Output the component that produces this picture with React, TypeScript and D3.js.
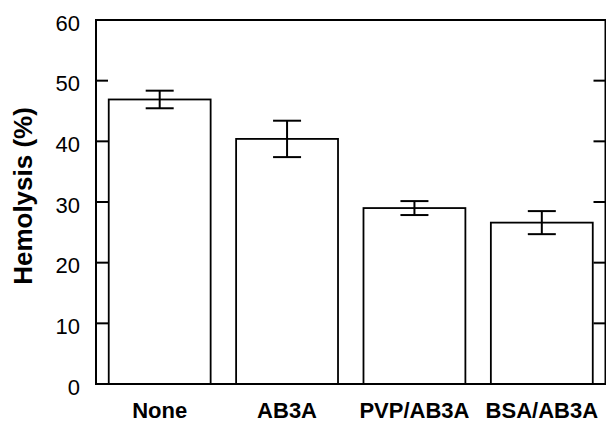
import React, { useRef, useEffect } from 'react';
import * as d3 from 'd3';

const categories = ['None', 'AB3A', 'PVP/AB3A', 'BSA/AB3A'];
const hemolysis = [46.9, 40.4, 29.0, 26.6];
const errors = [1.45, 3.0, 1.15, 1.9];
const yTicks = [0, 10, 20, 30, 40, 50, 60];

const W = 606;
const H = 423;
const margin = { top: 20, right: 0.5, bottom: 39, left: 96 };

const App = () => {
  const ref = useRef<SVGSVGElement>(null);

  useEffect(() => {
    const svg = d3.select(ref.current);
    svg.selectAll('*').remove();

    const x0 = margin.left;
    const x1 = W - margin.right;
    const y0 = H - margin.bottom;
    const y1 = margin.top;

    const x = d3.scaleBand<string>().domain(categories).range([x0, x1]).paddingInner(0.2).paddingOuter(0.1);
    const y = d3.scaleLinear().domain([0, 60]).range([y0, y1]);

    const font = 'Liberation Sans, Arial, Helvetica, sans-serif';

    // bars
    svg
      .append('g')
      .selectAll('rect')
      .data(categories)
      .join('rect')
      .attr('x', (d) => x(d)!)
      .attr('y', (d, i) => y(hemolysis[i]))
      .attr('width', x.bandwidth())
      .attr('height', (d, i) => y(0) - y(hemolysis[i]))
      .attr('fill', '#fff')
      .attr('stroke', '#000')
      .attr('stroke-width', 1.8);

    // error bars
    const cap = 14;
    const eb = svg.append('g').attr('stroke', '#000').attr('stroke-width', 2);
    categories.forEach((c, i) => {
      const cx = x(c)! + x.bandwidth() / 2;
      const hi = y(hemolysis[i] + errors[i]);
      const lo = y(hemolysis[i] - errors[i]);
      eb.append('line').attr('x1', cx).attr('x2', cx).attr('y1', hi).attr('y2', lo);
      eb.append('line').attr('x1', cx - cap).attr('x2', cx + cap).attr('y1', hi).attr('y2', hi);
      eb.append('line').attr('x1', cx - cap).attr('x2', cx + cap).attr('y1', lo).attr('y2', lo);
    });

    // frame
    svg
      .append('rect')
      .attr('x', x0)
      .attr('y', y1)
      .attr('width', x1 - x0)
      .attr('height', y0 - y1)
      .attr('fill', 'none')
      .attr('stroke', '#000')
      .attr('stroke-width', 2);

    // inward ticks, left and right
    const inner = yTicks.filter((t) => t > 0 && t < 60);
    const tk = svg.append('g').attr('stroke', '#000').attr('stroke-width', 2);
    inner.forEach((t) => {
      tk.append('line').attr('x1', x0).attr('x2', x0 + 12).attr('y1', y(t)).attr('y2', y(t));
      tk.append('line').attr('x1', x1).attr('x2', x1 - 12).attr('y1', y(t)).attr('y2', y(t));
    });

    // y tick labels
    svg
      .append('g')
      .selectAll('text')
      .data(yTicks)
      .join('text')
      .attr('x', 80)
      .attr('y', (d) => y(d) + 3)
      .attr('dy', '0.35em')
      .attr('text-anchor', 'end')
      .attr('font-family', font)
      .attr('font-size', 22)
      .text((d) => d);

    // x labels
    svg
      .append('g')
      .selectAll('text')
      .data(categories)
      .join('text')
      .attr('x', (d) => x(d)! + x.bandwidth() / 2)
      .attr('y', 418)
      .attr('text-anchor', 'middle')
      .attr('font-family', font)
      .attr('font-weight', 'bold')
      .attr('font-size', 22)
      .text((d) => d);

    // y title
    svg
      .append('text')
      .attr('transform', 'translate(32,196) rotate(-90)')
      .attr('text-anchor', 'middle')
      .attr('font-family', font)
      .attr('font-weight', 'bold')
      .attr('font-size', 26)
      .text('Hemolysis (%)');
  }, []);

  return (
    <svg
      ref={ref}
      width={W}
      height={H}
      style={{ position: 'absolute', left: 0, top: 0, background: '#fff' }}
    />
  );
};

export default App;
